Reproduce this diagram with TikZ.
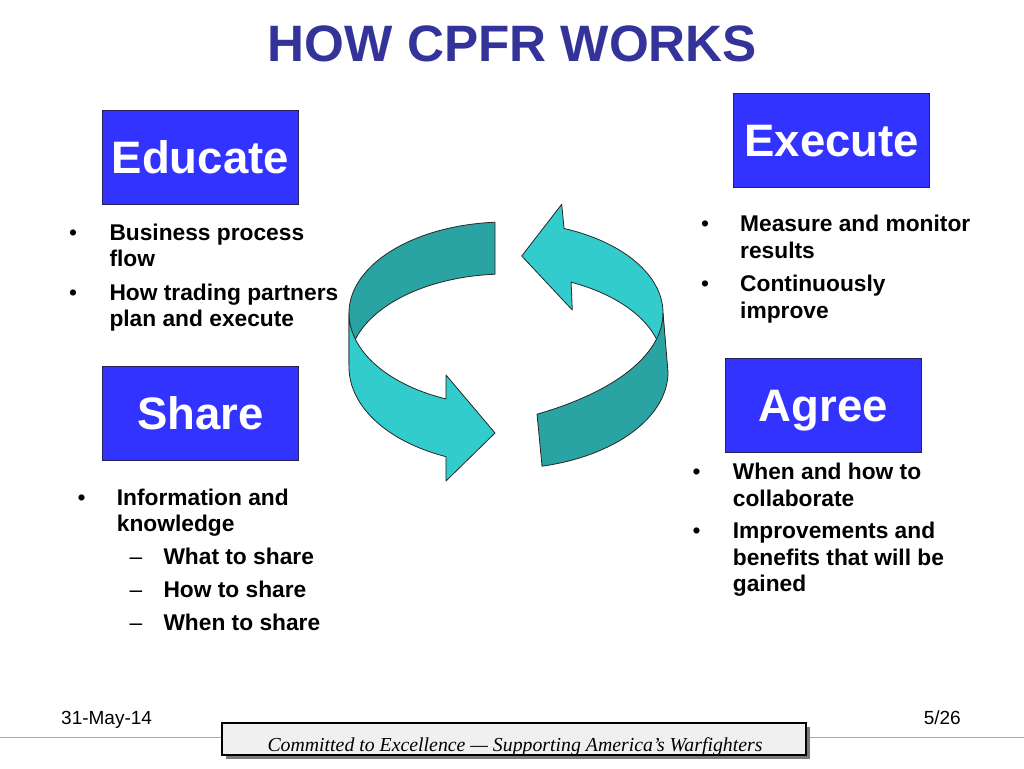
\documentclass[tikz,border=0pt]{standalone}
\usepackage{fontspec}
\setmainfont{Liberation Sans}
\newfontfamily\mottofont{Liberation Serif}
\definecolor{titleblue}{HTML}{333399}
\definecolor{boxblue}{HTML}{3333FF}
\definecolor{boxborder}{HTML}{22225A}
\definecolor{lightteal}{HTML}{33CCCC}
\definecolor{darkteal}{HTML}{2AA3A3}
\definecolor{footline}{HTML}{A8A8A8}
\definecolor{mottofill}{HTML}{F0F0F0}
\definecolor{mottoshadow}{HTML}{7A7A7A}
\begin{document}
\begin{tikzpicture}[x=1pt,y=-1pt,
  txt/.style={anchor=base west, inner sep=0pt, font=\fontsize{22.75}{27}\selectfont\bfseries},
  dot/.style={anchor=base, inner sep=0pt, font=\fontsize{22.75}{27}\selectfont},
  subdash/.style={anchor=base west, inner sep=0pt, font=\fontsize{22.75}{27}\selectfont},
  bluebox/.style={draw=boxborder, line width=1pt, fill=boxblue, text=white, inner sep=0pt,
    minimum width=196pt, minimum height=94pt, text height=32pt, text depth=0pt,
    font=\fontsize{45.5}{50}\selectfont\bfseries},
  ribbon/.style={draw=black!85, line width=0.8pt, line join=round},
  foot/.style={inner sep=0pt, font=\fontsize{19}{22}\selectfont}
]
\useasboundingbox (0,0) rectangle (1024,768);

% title
\node[anchor=base, inner sep=0pt, text=titleblue, font=\fontsize{51.2}{60}\selectfont\bfseries] (title) at (512.5,62) {HOW CPFR WORKS};

% boxes
\node[bluebox] (educate) at (200.3,157.5) {Educate};
\node[bluebox] (share) at (200.3,413.7) {Share};
\node[bluebox] (execute) at (831.7,140.5) {Execute};
\node[bluebox] (agree) at (823.3,405) {Agree};

% educate bullets
\node[dot] (ed1) at (73,240) {•};
\node[txt] (et1) at (109.3,240) {Business process};
\node[txt] (et2) at (109.3,266.7) {flow};
\node[dot] (ed2) at (73,300) {•};
\node[txt] (et3) at (109.3,300) {How trading partners};
\node[txt] (et4) at (109.3,326.7) {plan and execute};

% share bullets
\node[dot] (sd1) at (81.7,505) {•};
\node[txt] (st1) at (116.7,505) {Information and};
\node[txt] (st2) at (116.7,531.7) {knowledge};
\node[subdash] (sd2) at (129.5,564) {–};
\node[txt] (st3) at (163.3,564) {What to share};
\node[subdash] (sd3) at (129.5,597.3) {–};
\node[txt] (st4) at (163.3,597.3) {How to share};
\node[subdash] (sd4) at (129.5,630) {–};
\node[txt] (st5) at (163.3,630) {When to share};

% execute bullets
\node[dot] (xd1) at (705,231.7) {•};
\node[txt] (xt1) at (740,231.7) {Measure and monitor};
\node[txt] (xt2) at (740,258.3) {results};
\node[dot] (xd2) at (705,291.7) {•};
\node[txt] (xt3) at (740,291.7) {Continuously};
\node[txt] (xt4) at (740,318.3) {improve};

% agree bullets
\node[dot] (ad1) at (696.7,479.3) {•};
\node[txt] (at1) at (732.7,479.3) {When and how to};
\node[txt] (at2) at (732.7,506) {collaborate};
\node[dot] (ad2) at (696.7,538.3) {•};
\node[txt] (at3) at (732.7,538.3) {Improvements and};
\node[txt] (at4) at (732.7,565) {benefits that will be};
\node[txt] (at5) at (732.7,591.7) {gained};

% cycle arrows
% left arrow, back part (dark)
\draw[ribbon, fill=darkteal]
  plot[domain=266:180, samples=40] ({506+157*cos(\x)},{313+91*sin(\x)})
  -- plot[domain=180:266, samples=40] ({506+157*cos(\x)},{365+91*sin(\x)}) -- cycle;
% right arrow, back part (light) with head
\draw[ribbon, fill=lightteal]
  (521.7,256) -- (561.7,204.3)
  -- plot[domain=291.7:360, samples=40] ({506+157*cos(\x)},{313+91*sin(\x)})
  -- (667,372)
  -- plot[domain=360:294.5, samples=40] ({506+157*cos(\x)},{365+91*sin(\x)})
  -- (572.3,310) -- cycle;
% left arrow, front part (light) with head
\draw[ribbon, fill=lightteal]
  plot[domain=180:112.5, samples=40] ({506+157*cos(\x)},{313+93*sin(\x)})
  -- (446,375) -- (495,433) -- (446,481)
  -- plot[domain=112.5:180, samples=40] ({506+157*cos(\x)},{367+97*sin(\x)}) -- cycle;
% right arrow, front part (dark)
\draw[ribbon, fill=darkteal]
  plot[domain=78.6:0, samples=40] ({506+157*cos(\x)},{313+91*sin(\x)+12*(\x/78.6)^3})
  -- plot[domain=0:78.6, samples=40] ({511+157*cos(\x)},{372+5*(\x/78.6)+91*sin(\x)})
  -- cycle;

% footer
\draw[footline, line width=1.6pt] (0,737.5) -- (1024,737.5);
\fill[mottoshadow] (225.5,726.5) rectangle (809.5,758.5);
\node[draw=black, line width=1.2pt, fill=mottofill, minimum width=584pt, minimum height=32pt, inner sep=0pt] (mottobox) at (514,739) {};
\node[anchor=base, inner sep=0pt, font=\mottofont\itshape\fontsize{19.8}{22}\selectfont] (motto) at (515,751.5) {Committed to Excellence — Supporting America’s Warfighters};
\node[foot, anchor=base west] (date) at (61,724) {31-May-14};
\node[foot, anchor=base east] (page) at (961,724) {5/26};
\end{tikzpicture}
\end{document}
